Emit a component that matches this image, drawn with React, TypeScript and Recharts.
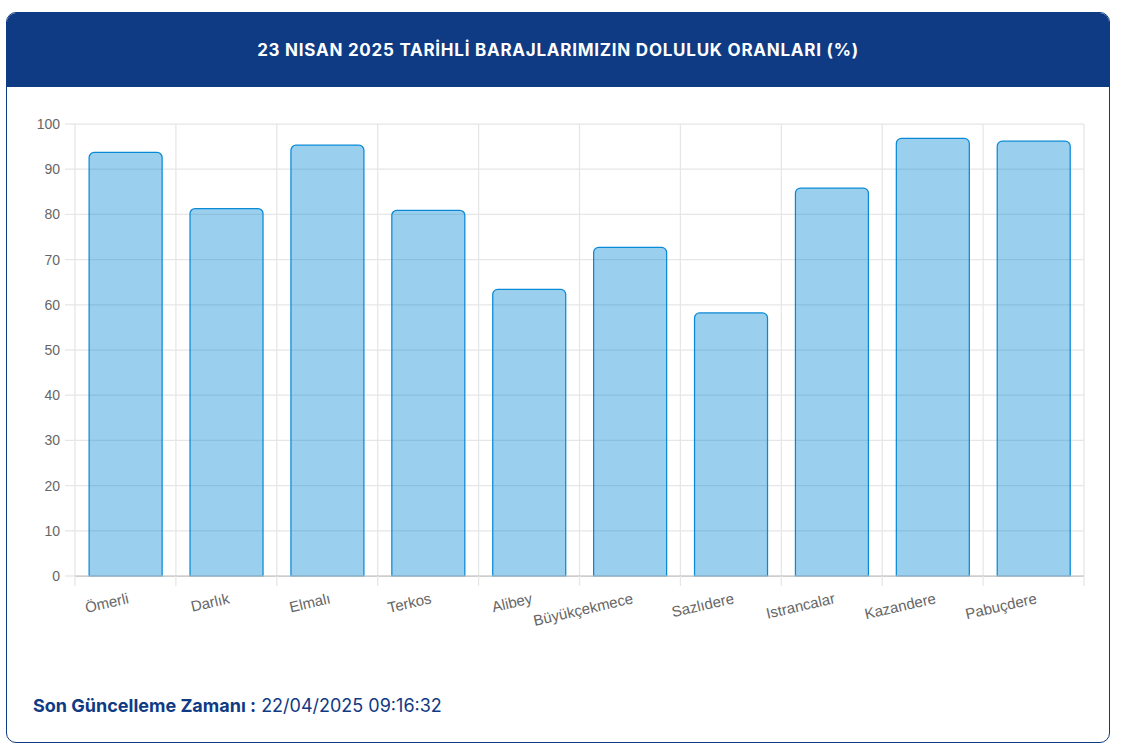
import React from 'react';
import { BarChart, Bar, XAxis, YAxis, CartesianGrid, ReferenceLine } from 'recharts';

const dams = ['Ömerli', 'Darlık', 'Elmalı', 'Terkos', 'Alibey', 'Büyükçekmece', 'Sazlıdere', 'Istrancalar', 'Kazandere', 'Pabuçdere'];
const rates = [93.7, 81.3, 95.3, 80.9, 63.4, 72.7, 58.2, 85.8, 96.8, 96.2];
const yTicks = [0, 10, 20, 30, 40, 50, 60, 70, 80, 90, 100];

const data = dams.map((name, i) => ({ name, value: rates[i] }));

const NAVY = '#0f3a84';
const GRID = '#e6e6e6';
const FONT = '"Liberation Sans", Arial, Helvetica, sans-serif';

const CHART_W = 1080;
const CHART_H = 530;
const MARGIN = { top: 14, right: 16, bottom: 4, left: 0 };
const Y_W = 55;
const PLOT_W = CHART_W - MARGIN.left - MARGIN.right - Y_W;

const XTick = (props: any) => {
  const { x, y, payload, index } = props;
  const half = payload && payload.offset ? payload.offset : PLOT_W / dams.length / 2;
  return (
    <g>
      <line x1={x - half} x2={x - half} y1={y} y2={y + 10} stroke={GRID} strokeWidth={1.25} />
      {index === dams.length - 1 && (
        <line x1={x + half} x2={x + half} y1={y} y2={y + 10} stroke={GRID} strokeWidth={1.25} />
      )}
      <text
        x={x + 4}
        y={y + 27}
        textAnchor="end"
        transform={`rotate(-13, ${x + 4}, ${y + 27})`}
        fill="#666"
        fontSize={15}
        fontFamily={FONT}
      >
        {payload.value}
      </text>
    </g>
  );
};

export default function App() {
  return (
    <div style={{ position: 'absolute', left: 0, top: 0, width: 1122, height: 750, background: '#fff' }}>
      <div
        style={{
          position: 'absolute',
          left: 6,
          top: 12,
          width: 1104,
          height: 731,
          boxSizing: 'border-box',
          border: `1px solid ${NAVY}`,
          borderRadius: 10,
          overflow: 'hidden',
          background: '#fff',
        }}
      >
        <div
          style={{
            height: 74,
            background: NAVY,
            color: '#fff',
            fontFamily: 'Inter, "Noto Sans", sans-serif',
            fontWeight: 700,
            fontSize: 17,
            lineHeight: '74px',
            textAlign: 'center',
            letterSpacing: 0.75,
          }}
        >
          23 NISAN 2025 TARİHLİ BARAJLARIMIZIN DOLULUK ORANLARI (%)
        </div>
        <div
          style={{
            position: 'absolute',
            left: 26,
            top: 681,
            fontFamily: 'Inter, "Noto Sans", sans-serif',
            fontSize: 18,
            lineHeight: '24px',
            color: NAVY,
            whiteSpace: 'nowrap',
          }}
        >
          <span style={{ fontWeight: 700 }}>Son Güncelleme Zamanı :</span> 22/04/2025 09:16:32
        </div>
      </div>
      <div style={{ position: 'absolute', left: 20, top: 110 }}>
        <BarChart width={CHART_W} height={CHART_H} data={data} margin={MARGIN} barCategoryGap="14%">
          <CartesianGrid
            stroke={GRID}
            strokeWidth={1.25}
            verticalCoordinatesGenerator={({ offset }: any) =>
              Array.from({ length: dams.length + 1 }, (_, i) => offset.left + (i * offset.width) / dams.length)
            }
          />
          <XAxis
            dataKey="name"
            interval={0}
            tickLine={false}
            axisLine={false}
            tickSize={0}
            tickMargin={0}
            height={60}
            tick={<XTick />}
          />
          <YAxis
            domain={[0, 100]}
            ticks={yTicks}
            interval={0}
            width={Y_W}
            axisLine={false}
            tickLine={{ stroke: GRID, strokeWidth: 1.25 }}
            tickSize={10}
            tickMargin={5}
            tick={{ fill: '#666', fontSize: 14, fontFamily: FONT }}
          />
          <ReferenceLine y={0} stroke="#c4c4c4" strokeWidth={1.25} />
          <Bar
            dataKey="value"
            fill="rgba(3,136,209,0.4)"
            stroke="#0a8ad6"
            strokeWidth={1.25}
            radius={[5, 5, 0, 0]}
            isAnimationActive={false}
          />
        </BarChart>
      </div>
    </div>
  );
}
